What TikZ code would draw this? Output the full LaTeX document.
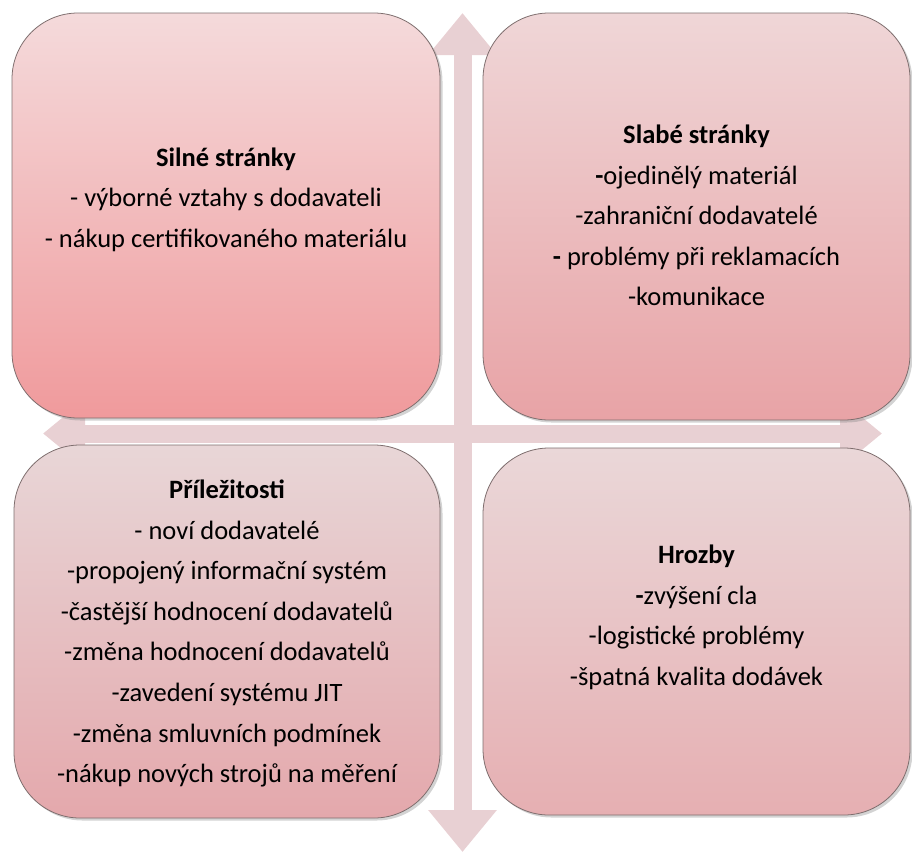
\documentclass[tikz,border=0pt]{standalone}
\usepackage{fontspec}
\setmainfont{Carlito}
\usepackage{tikz}
\usetikzlibrary{arrows.meta,positioning,calc,shadows}
\definecolor{axisfill}{HTML}{E8D0D3}
\definecolor{edge}{HTML}{7E6E6E}
\definecolor{stopA}{HTML}{F4DADB}
\definecolor{sbotA}{HTML}{F09A9C}
\definecolor{stopB}{HTML}{EFD6D7}
\definecolor{sbotB}{HTML}{E8A3A6}
\definecolor{stopC}{HTML}{E8D6D7}
\definecolor{sbotC}{HTML}{E4A8AC}
\definecolor{stopD}{HTML}{EAD7D8}
\definecolor{sbotD}{HTML}{E6AFB2}

\begin{document}
\begin{tikzpicture}[
  x=1pt,y=-1pt,
  font=\fontsize{26.5}{40.6}\selectfont,
  quad/.style={draw=edge, line width=0.8pt, rounded corners=66pt, inner sep=0pt,
    drop shadow={shadow xshift=2.5pt, shadow yshift=-2.5pt, opacity=0.35}},
  quadtext/.style={align=center, text=black, inner sep=0pt},
  axis/.style={draw=axisfill, line width=18pt,
    {Triangle[width=66pt,length=42pt]}-{Triangle[width=66pt,length=42pt]}},
]
\useasboundingbox (0,0) rectangle (912,852);
% cross of double arrows behind the quadrants
\coordinate (vtop) at (462.5,13);
\coordinate (vbot) at (462.5,852);
\coordinate (hleft) at (43,433.5);
\coordinate (hright) at (882,433.5);
\draw[axis] (hleft) -- (hright);
\draw[axis] (vbot) -- (vtop);
% quadrants
\node[quad, top color=stopA, bottom color=sbotA, minimum width=428pt, minimum height=405pt] (silne) at (226,215.5) {};
\node[quad, top color=stopB, bottom color=sbotB, minimum width=427pt, minimum height=407pt] (slabe) at (696.5,216.5) {};
\node[quad, top color=stopC, bottom color=sbotC, minimum width=426pt, minimum height=373pt] (prilez) at (227,631.5) {};
\node[quad, top color=stopD, bottom color=sbotD, minimum width=427pt, minimum height=367pt] (hrozby) at (696.5,631.5) {};
% texts
\node[quadtext] (silnetxt) at ($(silne.center)+(0,-16)$)
  {\textbf{Silné stránky}\\- výborné vztahy s dodavateli\\- nákup certifikovaného materiálu};
\node[quadtext] (slabetxt) at ($(slabe.center)+(0,-1)$)
  {\textbf{Slabé stránky}\\\textbf{-}ojedinělý materiál\\-zahraniční dodavatelé\\\textbf{-} problémy při reklamacích\\-komunikace};
\node[quadtext] (prileztxt) at ($(prilez.center)+(0,2)$)
  {\textbf{Příležitosti}\\- noví dodavatelé\\-propojený informační systém\\-častější hodnocení dodavatelů\\-změna hodnocení dodavatelů\\-zavedení systému JIT\\-změna smluvních podmínek\\-nákup nových strojů na měření};
\node[quadtext] (hrozbytxt) at ($(hrozby.center)+(0,-14)$)
  {\textbf{Hrozby}\\\textbf{-}zvýšení cla\\-logistické problémy\\-špatná kvalita dodávek};
\end{tikzpicture}
\end{document}
